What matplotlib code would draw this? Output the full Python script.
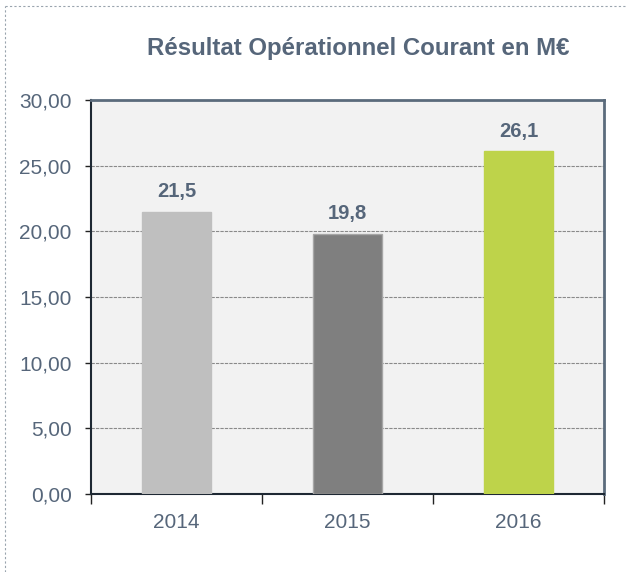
import matplotlib
matplotlib.use("Agg")
import matplotlib.pyplot as plt
from matplotlib.lines import Line2D
from matplotlib.ticker import FixedLocator

years = ["2014", "2015", "2016"]
values = [21.5, 19.8, 26.1]
labels = ["21,5", "19,8", "26,1"]
bar_colors = ["#bfbfbf", "#7f7f7f", "#bed34a"]
edge_colors = ["#bfbfbf", "#a6a6a6", "#bed34a"]
yticks = [0, 5, 10, 15, 20, 25, 30]
title = "Résultat Opérationnel Courant en M€"

plt.rcParams['font.family'] = ['Liberation Sans', 'DejaVu Sans']
text_color = "#56667a"

fig = plt.figure(figsize=(6.27, 5.72), dpi=100)
W, H = 627, 572
ax = fig.add_axes([91 / W, 1 - 494 / H, (604 - 91) / W, (494 - 100) / H])
ax.set_facecolor("#f2f2f2")

x = list(range(len(years)))
ax.bar(x, values, width=0.4, color=bar_colors, edgecolor=edge_colors, linewidth=1, zorder=3)
for xi, v, lab in zip(x, values, labels):
    ax.text(xi, v + 0.8, lab, ha="center", va="bottom", fontsize=14.5, fontweight="bold", color=text_color)

ax.set_xlim(-0.5, 2.5)
ax.set_ylim(0, 30)
ax.set_yticks(yticks)
ax.set_yticklabels([f"{t:.2f}".replace(".", ",") for t in yticks], fontsize=15, color=text_color)
ax.yaxis.grid(True, linestyle=(0, (3, 1)), color="#8a8a8a", linewidth=0.8, zorder=1)
ax.set_xticks(x)
ax.set_xticklabels(years, fontsize=15, color=text_color)
ax.xaxis.set_minor_locator(FixedLocator([-0.5, 0.5, 1.5, 2.5]))
ax.tick_params(axis="x", which="major", length=0, pad=14)
ax.tick_params(axis="x", which="minor", length=7, width=1, color="#222222", direction="out")
ax.tick_params(axis="y", length=4.5, width=1, color="#222222", pad=9.5, direction="out")

for side in ["top", "right"]:
    ax.spines[side].set_color("#5b6b7c")
    ax.spines[side].set_linewidth(2)
for side in ["left", "bottom"]:
    ax.spines[side].set_color("#1e2833")
    ax.spines[side].set_linewidth(1.5)

fig.text(358 / W, 1 - 48 / H, title, ha="center", va="center", fontsize=17.3, fontweight="bold", color=text_color)

# dotted outer frame (top and left visible)
fig.add_artist(Line2D([5 / W, 5 / W], [0, 1 - 6 / H], transform=fig.transFigure, color="#9aa4ae", linestyle=(0, (2, 2)), linewidth=0.8))
fig.add_artist(Line2D([5 / W, 1], [1 - 6 / H, 1 - 6 / H], transform=fig.transFigure, color="#9aa4ae", linestyle=(0, (2, 2)), linewidth=0.8))

fig.savefig("out.png", dpi=100)
